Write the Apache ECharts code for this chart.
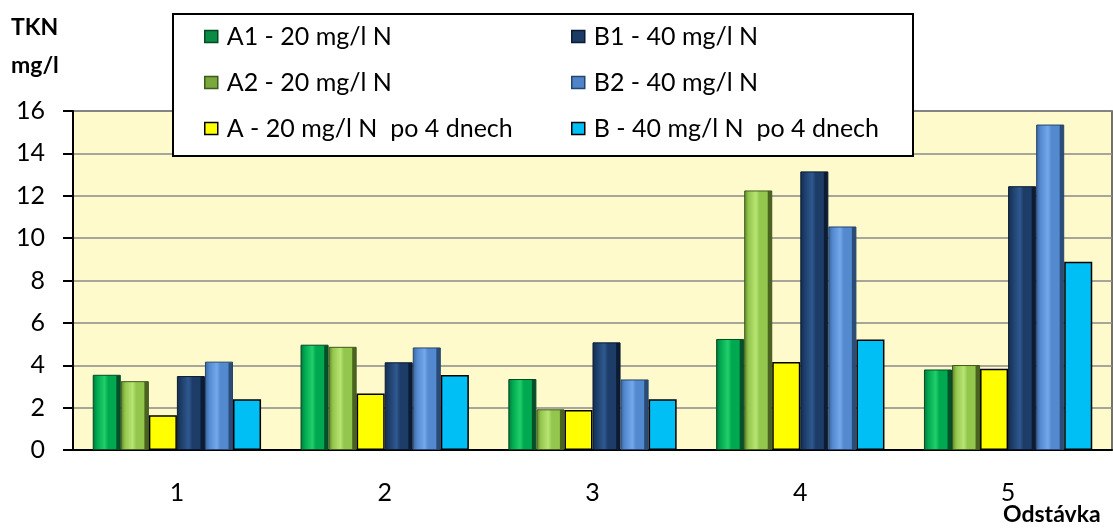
<!DOCTYPE html>
<html><head><meta charset="utf-8">
<script src="https://cdn.jsdelivr.net/npm/echarts@6/dist/echarts.min.js"></script>
<style>html,body{margin:0;padding:0;background:#fff}#c{width:1113px;height:530px}</style>
</head><body><div id="c"></div>
<script>
const categories = ['1','2','3','4','5'];
const seriesNames = ['A1 - 20 mg/l N','A2 - 20 mg/l N','A - 20 mg/l N  po 4 dnech','B1 - 40 mg/l N','B2 - 40 mg/l N','B - 40 mg/l N  po 4 dnech'];
const A1 = [3.55, 4.97, 3.35, 5.24, 3.80];
const A2 = [3.25, 4.87, 1.92, 12.25, 4.01];
const A  = [1.64, 2.67, 1.89, 4.15, 3.84];
const B1 = [3.49, 4.14, 5.08, 13.15, 12.45];
const B2 = [4.17, 4.84, 3.33, 10.55, 15.36];
const B  = [2.39, 3.54, 2.39, 5.22, 8.88];
const yTicks = [0, 2, 4, 6, 8, 10, 12, 14, 16];

const FONT = 'Lato, "Open Sans", sans-serif';
function bevel(dark, light, mid, darker) {
  return new echarts.graphic.LinearGradient(0, 0, 1, 0, [
    {offset: 0, color: dark}, {offset: 0.15, color: mid}, {offset: 0.42, color: light},
    {offset: 0.55, color: mid}, {offset: 0.82, color: mid}, {offset: 0.86, color: darker}, {offset: 1, color: darker}
  ]);
}
const styles = [
  {color: bevel('#06733a', '#20cf6a', '#00a84f', '#04502a'), borderColor: '#034a24', borderWidth: 1, legend: '#0a8c45'},
  {color: bevel('#5d7f2a', '#b8e474', '#93c64c', '#4a6420'), borderColor: '#3f5a1c', borderWidth: 1, legend: '#7aa83c'},
  {color: '#ffff00', borderColor: '#000', borderWidth: 1.5, legend: '#ffff00'},
  {color: bevel('#132c50', '#2f5990', '#1d3d68', '#0c1c34'), borderColor: '#0a1a30', borderWidth: 1, legend: '#1c3c66'},
  {color: bevel('#3a6298', '#74a8ea', '#5289cf', '#2c4c78'), borderColor: '#25456f', borderWidth: 1, legend: '#4f84c8'},
  {color: '#00bff5', borderColor: '#000', borderWidth: 1.5, legend: '#00bff5'}
];
const dataArr = [A1, A2, A, B1, B2, B];

const series = seriesNames.map((n, i) => ({
  name: n, type: 'bar', data: dataArr[i],
  barGap: '0%', barCategoryGap: '19%',
  itemStyle: {color: styles[i].color, borderColor: styles[i].borderColor, borderWidth: styles[i].borderWidth}
}));

const legendCommon = {
  orient: 'vertical', top: 19, itemWidth: 13, itemHeight: 12, itemGap: 21, z: 10,
  textStyle: {fontFamily: FONT, fontSize: 25, color: '#000', padding: [0,0,0,4]},
  icon: 'rect', selectedMode: false
};

const chart = echarts.init(document.getElementById('c'));
chart.setOption({
  animation: false,
  color: styles.map(s => s.legend),
  grid: {left: 73, right: 1, top: 111, bottom: 80, show: true, backgroundColor: '#fefacb', borderColor: '#444', borderWidth: 1.5},
  xAxis: {
    type: 'category', data: categories,
    axisLine: {lineStyle: {color: '#000', width: 2}},
    axisTick: {show: false},
    axisLabel: {fontFamily: FONT, fontSize: 25, color: '#000', margin: 30}
  },
  yAxis: {
    type: 'value', min: yTicks[0], max: yTicks[yTicks.length-1], interval: 2,
    axisLine: {show: true, lineStyle: {color: '#000', width: 2}},
    axisTick: {show: true, length: 10, lineStyle: {color: '#000', width: 2}},
    splitLine: {lineStyle: {color: '#8a8a8a', width: 1.5}},
    axisLabel: {fontFamily: FONT, fontSize: 25, color: '#000', margin: 28}
  },
  legend: [
    Object.assign({}, legendCommon, {left: 199, data: seriesNames.slice(0,3).map((n,i)=>({name:n, itemStyle:{color: styles[i].legend, borderColor: i===2?'#000':styles[i].borderColor, borderWidth: 1.5}}))}),
    Object.assign({}, legendCommon, {left: 566, data: seriesNames.slice(3).map((n,i)=>({name:n, itemStyle:{color: styles[i+3].legend, borderColor: i===2?'#000':styles[i+3].borderColor, borderWidth: 1.5}}))})
  ],
  graphic: [
    {type: 'rect', z: 3, shape: {x: 173, y: 14, width: 740, height: 142}, style: {fill: '#fff', stroke: '#000', lineWidth: 2}},
    {type: 'text', left: 11, top: 16, style: {text: 'TKN', font: 'bold 23px ' + FONT, fill: '#000'}},
    {type: 'text', left: 11, top: 54, style: {text: 'mg/l', font: 'bold 23px ' + FONT, fill: '#000'}},
    {type: 'text', left: 1003, top: 503, style: {text: 'Odstávka', font: 'bold 23px ' + FONT, fill: '#000'}}
  ],
  series: series
});
</script></body></html>
